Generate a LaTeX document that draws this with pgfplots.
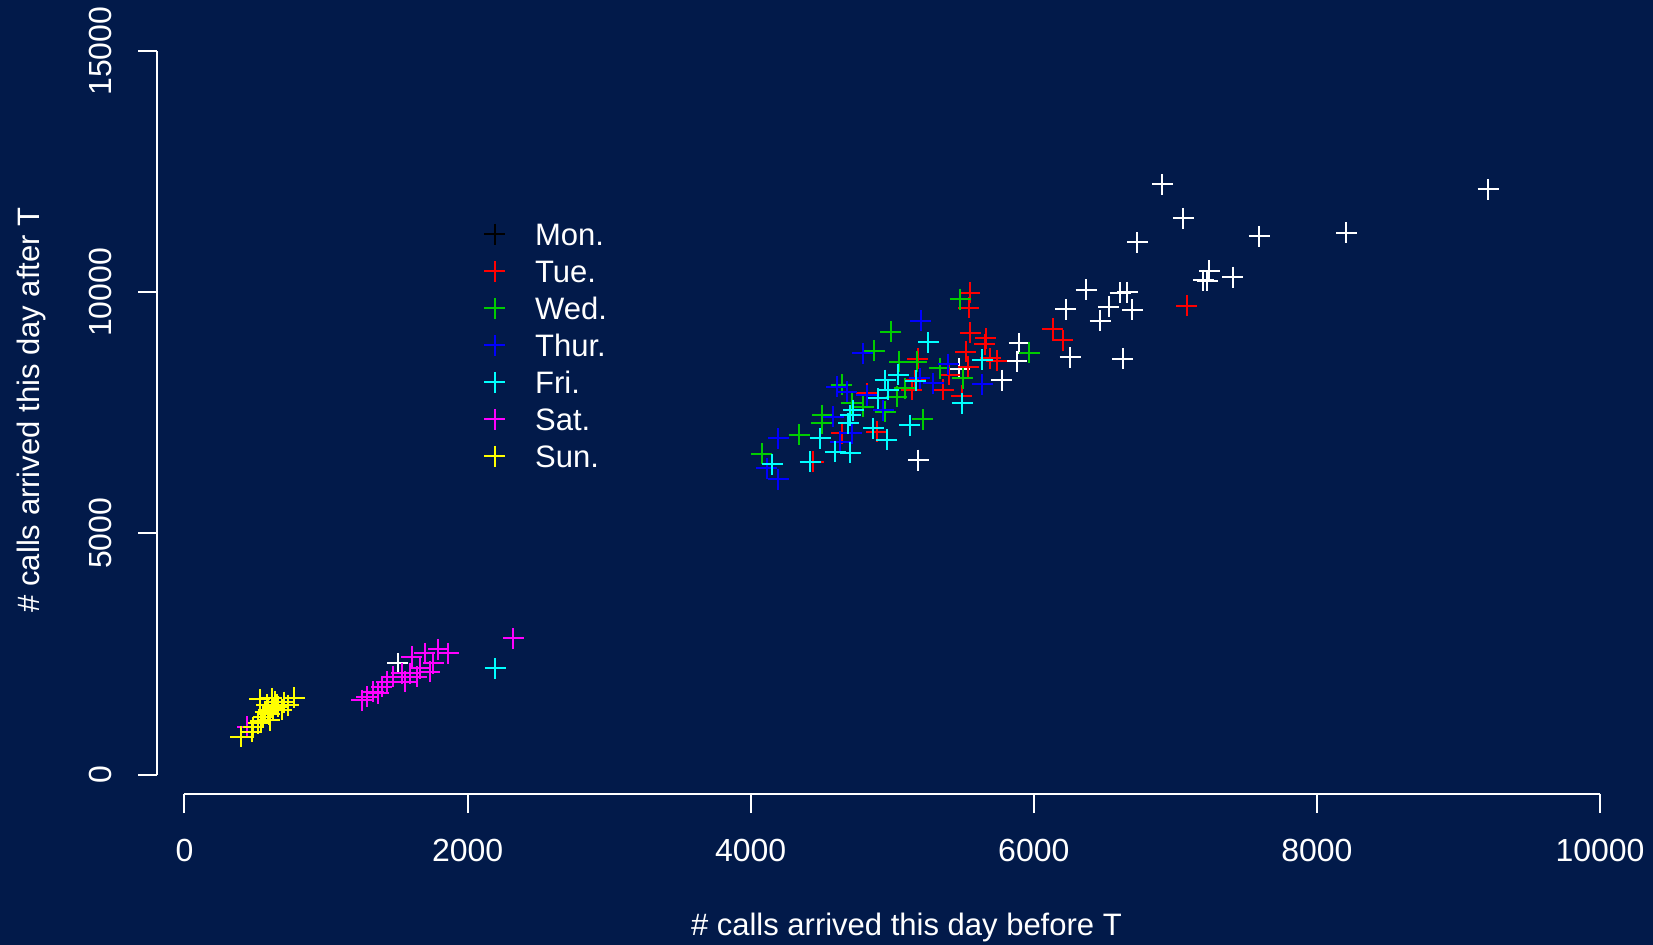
\documentclass[border=0pt]{standalone}
\usepackage{pgfplots}
\pgfplotsset{compat=1.18}
\usepackage{fontspec}
\setmainfont{Liberation Sans}
\definecolor{bg}{RGB}{2,26,74}
\definecolor{rred}{RGB}{255,0,0}
\definecolor{rgreen}{RGB}{0,205,0}
\definecolor{rblue}{RGB}{0,0,255}
\definecolor{rcyan}{RGB}{0,255,255}
\definecolor{rmagenta}{RGB}{255,0,255}
\definecolor{ryellow}{RGB}{255,255,0}
\begin{document}
\fontsize{16bp}{19bp}\selectfont
\begin{tikzpicture}
\fill[bg] (-92.25bp,-85.25bp) rectangle (734.25bp,387.25bp);
\begin{axis}[
  scale only axis, width=707.75bp, height=361.65bp,
  xmin=0, xmax=10000, ymin=0, ymax=15000,
  clip=false,
  axis x line=bottom, axis y line=left,
  axis line style={-, white, line width=1bp},
  x axis line style={-, yshift=-9.75bp},
  y axis line style={-, xshift=-13.75bp},
  xtick={0,2000,4000,6000,8000,10000},
  ytick={0,5000,10000,15000},
  minor tick num=0,
  tick align=outside, major tick length=9.5bp,
  tick style={white, line width=1bp},
  xtick style={yshift=-9.75bp},
  ytick style={xshift=-13.75bp},
  scaled ticks=false,
  /pgf/number format/1000 sep={},
  /pgf/number format/assume math mode=true,
  tick label style={text=white, font=\fontsize{16bp}{19bp}\selectfont},
  xticklabel style={anchor=north, inner sep=0pt},
  xticklabel shift=22.4bp,
  yticklabel style={rotate=90, anchor=south, inner sep=0pt},
  yticklabel shift=26.4bp,
  xlabel={\# calls arrived this day before T},
  ylabel={\# calls arrived this day after T},
  label style={font=\fontsize{15.5bp}{18bp}\selectfont},
  xlabel style={at={(axis cs:5100,-3343)}, anchor=base, text=white},
  ylabel style={at={(axis cs:-1021,7560)}, anchor=base, text=white},
  every axis plot/.append style={only marks, mark=+, mark size=5.25bp, line width=1bp},
  legend style={at={(axis cs:2114,11541)}, anchor=north west, draw=none, fill=none,
    text=white, inner sep=0pt, row sep=2.5bp, column sep=0pt,
    font=\fontsize{15.5bp}{18bp}\selectfont,
    nodes={inner sep=0pt, text height=13.5bp, text depth=2.5bp},
    /tikz/every odd column/.style={column sep=15bp}},
  legend cell align=left,
  legend image code/.code={\draw[mark repeat=2,mark phase=2,#1] plot coordinates {(-5bp,0bp) (0bp,0bp) (5bp,0bp)};},
]
\addlegendimage{only marks, mark=+, mark size=5.25bp, line width=1bp, color=black}
\addlegendentry{Mon.}
\addplot[white, forget plot] coordinates {
(6908,12240) (7056,11535) (6731,11037) (7593,11161) (8208,11230) (9209,12136)
(7240,10442) (7198,10255) (7226,10241) (7407,10317) (6369,10054) (6609,9992)
(6661,10006) (6227,9647) (6531,9701) (6696,9639) (6468,9405) (6256,8652)
(6628,8617) (5896,8942) (5879,8575) (5773,8181) (5474,8410) (5184,6522) (1506,2306)
};
\addplot[rred] coordinates {
(7082,9716) (6133,9239) (6204,9004) (5549,9992) (5542,9681) (5552,9163)
(5660,9046) (5655,8921) (5519,8768) (5738,8582) (5691,8631) (5180,8617)
(5537,8457) (5401,8285) (5361,7974) (5491,7850) (5137,7974) (5161,8181)
(4442,6487) (4643,7076) (4890,7109) (4820,7904)
};
\addlegendentry{Tue.}
\addplot[rgreen] coordinates {
(5479,9861) (5968,8748) (5498,8216) (5337,8424) (5215,7366) (5090,8009)
(5172,8561) (4989,9183) (4873,8783) (5050,8561) (4643,8078) (4506,7455)
(4501,7283) (4343,7041) (4078,6647) (4713,7698) (5031,7835) (4949,7524) (4795,7628)
};
\addlegendentry{Wed.}
\addplot[rblue] coordinates {
(5201,9411) (5396,8513) (5290,8113) (5636,8092) (5196,8216) (4791,8734)
(4608,8043) (4678,7939) (4820,7870) (4937,7559) (4584,7420) (4713,7076)
(4631,6902) (4195,6972) (4113,6350) (4195,6122)
};
\addlegendentry{Thur.}
\addplot[rcyan] coordinates {
(5255,8963) (5636,8596) (5166,8167) (5493,7698) (5125,7248) (5043,8285)
(4949,8181) (4972,7974) (4902,7801) (4725,7559) (4690,7283) (4866,7180)
(4490,6972) (4596,6695) (4702,6674) (4419,6487) (4153,6439) (4702,7455)
(4961,6937) (2194,2202)
};
\addlegendentry{Fri.}
\addplot[rmagenta] coordinates {
(2323,2824) (1605,2443) (1699,2513) (1793,2596) (1864,2513) (1758,2306)
(1664,2202) (1593,2099) (1534,2099) (1475,2029) (1428,1925) (1393,1821)
(1334,1717) (1287,1614) (1252,1545) (1369,1684) (1640,2029) (1734,2133)
(1558,1925) (444,991)
};
\addlegendentry{Sat.}
\addplot[ryellow] coordinates {
(399,784) (533,1559) (774,1593) (733,1441) (486,979) (557,1199) (616,1580)
(627,1373) (592,1338) (663,1406) (521,1062) (569,1302) (639,1510) (687,1338)
(604,1130) (475,888) (580,1450) (650,1450) (600,1250) (540,1100) (620,1400) (700,1500)
};
\addlegendentry{Sun.}
\end{axis}
\pgfresetboundingbox
\path[use as bounding box] (-92.25bp,-85.25bp) rectangle (734.25bp,387.25bp);
\end{tikzpicture}
\end{document}
